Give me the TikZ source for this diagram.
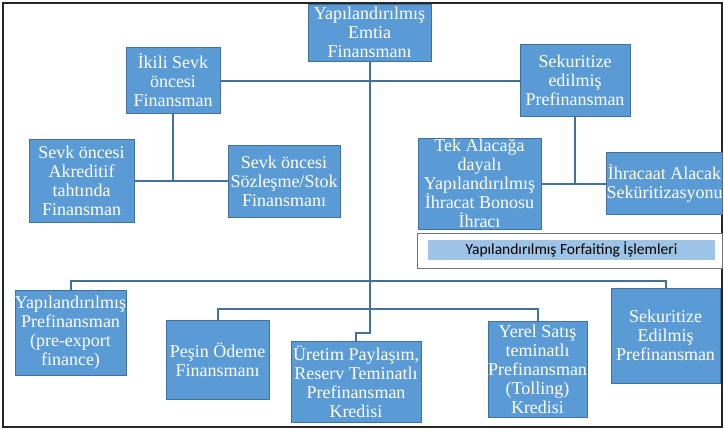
\documentclass[tikz,border=0pt]{standalone}
\usepackage{xcolor}
\usepackage{fontspec}
\setmainfont{Liberation Serif}
\newfontfamily\barfont{Carlito}
\usepackage{tikz}
\usetikzlibrary{positioning}
\definecolor{boxblue}{HTML}{5B9BD5}
\definecolor{boxedge}{HTML}{41719C}
\definecolor{linkblue}{HTML}{41719C}
\definecolor{barblue}{HTML}{9DC3E6}
\tikzstyle{line} = [draw, linkblue, line width=2pt]
\tikzstyle{block} = [rectangle, draw=boxedge, fill=boxblue, text=white,
    align=center, inner sep=0pt, font=\fontsize{18}{19}\selectfont]

\begin{document}
\begin{tikzpicture}[x=1pt, y=-1pt]
      \useasboundingbox (0,0) rectangle (724,429);
      \draw [black!85, line width=1.2pt] (3,3) rectangle (722,427);

      % Place nodes
      \node [block, minimum width=123pt, minimum height=57pt] (root) at (369.5,32.5) {Yapılandırılmış\\Emtia\\Finansmanı};
      \node [block, minimum width=94pt, minimum height=66pt] (ikili) at (173,80.5) {İkili Sevk\\öncesi\\Finansman};
      \node [block, minimum width=110pt, minimum height=72pt] (sekur) at (575,80.5) {Sekuritize\\edilmiş\\Prefinansman};

      \node [block, minimum width=105pt, minimum height=83pt] (akreditif) at (81.5,181) {Sevk öncesi\\Akreditif\\tahtında\\Finansman};
      \node [block, minimum width=112pt, minimum height=72pt] (sozlesme) at (284,181) {Sevk öncesi\\Sözleşme/Stok\\Finansmanı};
      \node [block, minimum width=123pt, minimum height=91pt] (bono) at (479.5,183.5) {Tek Alacağa\\dayalı\\Yapılandırılmış\\İhracat Bonosu\\İhracı};
      \node [block, minimum width=111pt, minimum height=62pt] (alacak) at (664.5,183.5) {İhracaat Alacak\\Seküritizasyonu};

      \node [draw=black!55, fill=white, minimum width=305pt, minimum height=35pt] (forfait) at (569.5,250.5) {};
      \node [fill=barblue, minimum width=287pt, minimum height=20pt, inner sep=0pt,
             font=\barfont\fontsize{15.5}{17}\selectfont] (forfaitbar) at (571.5,250) {Yapılandırılmış Forfaiting İşlemleri};

      \node [block, minimum width=109pt, minimum height=85pt] (preexport) at (70.5,332.5) {Yapılandırılmış\\Prefinansman\\(pre-export\\finance)};
      \node [block, minimum width=103pt, minimum height=79pt] (pesin) at (217.5,359.5) {Peşin Ödeme\\Finansmanı};
      \node [block, minimum width=130pt, minimum height=81pt] (uretim) at (356,381.5) {Üretim Paylaşım,\\Reserv Teminatlı\\Prefinansman\\Kredisi};
      \node [block, minimum width=97pt, minimum height=96pt] (yerel) at (537.5,369) {Yerel Satış\\teminatlı\\Prefinansman\\(Tolling)\\Kredisi};
      \node [block, minimum width=109pt, minimum height=95pt] (sekurtwo) at (665.5,335.5) {Sekuritize\\Edilmiş\\Prefinansman};

      % Connectors
      \coordinate (trunk) at (369.5,333);
      \coordinate (busone) at (369.5,281);
      \coordinate (bustwo) at (369.5,309);
      \path [line] (root.south) -- (trunk) -| (uretim.north);
      \path [line] (ikili.east) -- (sekur.west);
      \path [line] (ikili.south) -- (ikili.south |- akreditif.east);
      \path [line] (akreditif.east) -- (sozlesme.west);
      \path [line] (sekur.south) -- (sekur.south |- bono.east);
      \path [line] (bono.east) -- (alacak.west);
      \path [line] (preexport.north) |- (busone) -| (sekurtwo.north);
      \path [line] (pesin.north) |- (bustwo) -| (yerel.north);
\end{tikzpicture}
\end{document}
